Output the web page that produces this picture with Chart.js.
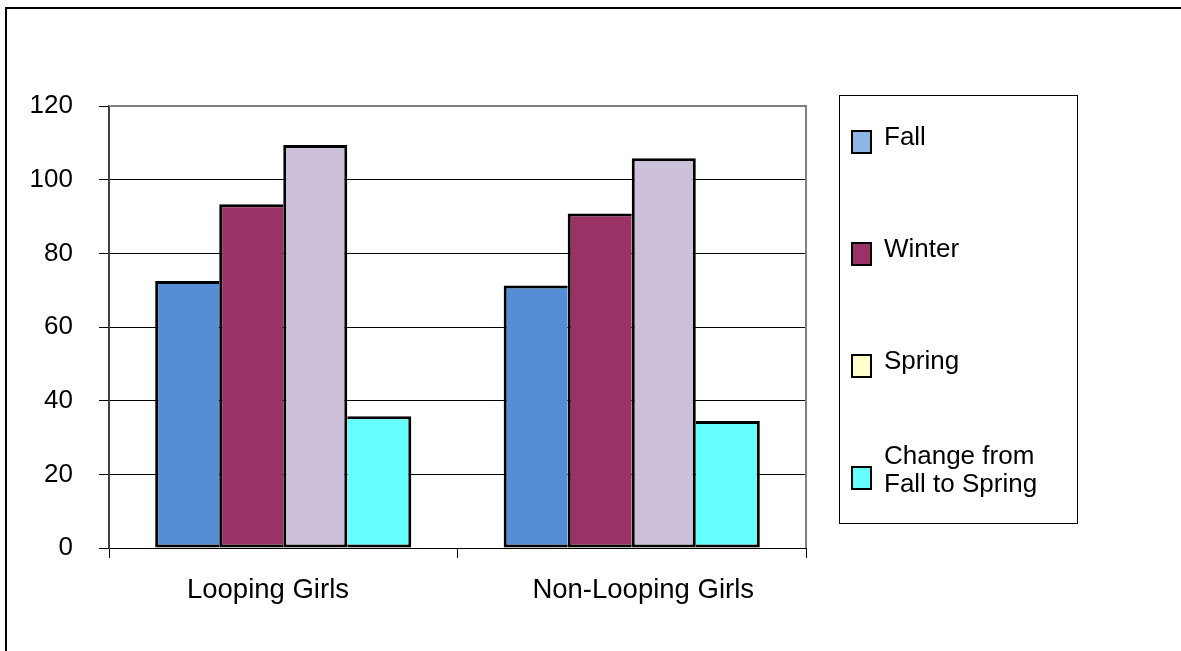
<!DOCTYPE html>
<html>
<head>
<meta charset="utf-8">
<script src="https://cdn.jsdelivr.net/npm/chart.js@4/dist/chart.umd.min.js"></script>
<style>
  html, body { margin: 0; padding: 0; background: #fff; }
  canvas { display: block; }
</style>
</head>
<body>
<canvas id="seasonChart" width="1181" height="651"></canvas>
<script>
/* ===================== DATA ===================== */
const CATEGORIES = ["Looping Girls", "Non-Looping Girls"];
const SERIES_NAMES = ["Fall", "Winter", "Spring", "Change from Fall to Spring"];

const FALL = [72.5, 71.3];
const WINTER = [93.3, 90.8];
const SPRING = [109.4, 105.8];
const CHANGE = [35.8, 34.5];

const Y_MIN = 0;
const Y_MAX = 120;
const Y_STEP = 20;

/* ===================== STYLE ===================== */
const FONT = "'Liberation Sans', Arial, sans-serif";
const FONT_SIZE = 26;
const BAR_COLORS = ["#558ED5", "#993366", "#CCC0DA", "#66FFFF"];
const LEGEND_COLORS = ["#8EB4E3", "#993366", "#FFFFCC", "#66FFFF"];
const EDGE = 3;

// neighbouring bars share one outline, so the left bars skip their right side
const BORDERS = [
  { top: EDGE, left: EDGE, bottom: EDGE, right: 0 },
  { top: EDGE, left: EDGE, bottom: EDGE, right: 0 },
  { top: EDGE, left: EDGE, bottom: EDGE, right: EDGE },
  { top: EDGE, left: 0, bottom: EDGE, right: EDGE }
];

// category labels sit a little off centre (spaces nudge them sideways)
const LABEL_NUDGE = [
  s => s + "    ",
  s => "   " + s
];

/* ===================== PLUGINS ===================== */
// outer frame (only the top and left edges fall inside the page)
const pageFrame = {
  id: "pageFrame",
  beforeDraw(chart) {
    const ctx = chart.ctx;
    ctx.save();
    ctx.fillStyle = "#fff";
    ctx.fillRect(0, 0, chart.width, chart.height);
    ctx.strokeStyle = "#000";
    ctx.lineWidth = 2;
    ctx.beginPath();
    ctx.moveTo(6, chart.height + 5);
    ctx.lineTo(6, 8);
    ctx.lineTo(chart.width + 5, 8);
    ctx.stroke();
    ctx.restore();
  }
};

// grey border round the plot area
const plotFrame = {
  id: "plotFrame",
  beforeDatasetsDraw(chart) {
    const { ctx, chartArea: a } = chart;
    ctx.save();
    ctx.strokeStyle = "#808080";
    ctx.lineWidth = 2;
    ctx.beginPath();
    ctx.moveTo(a.left, a.top);
    ctx.lineTo(a.right, a.top);
    ctx.lineTo(a.right, a.bottom);
    ctx.stroke();
    ctx.restore();
  }
};

// boxed legend on the right with wrapped labels
const sideLegend = {
  id: "sideLegend",
  afterDraw(chart) {
    const ctx = chart.ctx;
    const box = { x: 839.5, y: 95.5, w: 238, h: 428 };
    ctx.save();
    ctx.strokeStyle = "#000";
    ctx.lineWidth = 1;
    ctx.strokeRect(box.x, box.y, box.w, box.h);

    ctx.font = FONT_SIZE + "px " + FONT;
    ctx.textBaseline = "middle";
    ctx.textAlign = "left";
    const lineH = 28;
    const textX = 884;
    const maxW = box.x + box.w - textX - 8;

    chart.data.datasets.forEach((ds, i) => {
      const cy = 142 + i * 112;
      ctx.fillStyle = LEGEND_COLORS[i];
      ctx.fillRect(851, cy - 12, 21, 24);
      ctx.strokeStyle = "#000";
      ctx.lineWidth = 2;
      ctx.strokeRect(852, cy - 11, 19, 22);

      const words = ds.label.split(" ");
      const lines = [];
      let cur = "";
      words.forEach(w => {
        const test = cur ? cur + " " + w : w;
        if (ctx.measureText(test).width > maxW && cur) {
          lines.push(cur);
          cur = w;
        } else {
          cur = test;
        }
      });
      lines.push(cur);

      ctx.fillStyle = "#000";
      const y0 = cy - (lines.length - 1) * lineH / 2 - (lines.length > 1 ? 7 : 4);
      lines.forEach((t, k) => ctx.fillText(t, textX, y0 + k * lineH));
    });
    ctx.restore();
  }
};

/* ===================== CHART ===================== */
const seriesValues = [FALL, WINTER, SPRING, CHANGE];

new Chart(document.getElementById("seasonChart"), {
  type: "bar",
  data: {
    labels: CATEGORIES,
    datasets: SERIES_NAMES.map((name, i) => ({
      label: name,
      data: seriesValues[i],
      backgroundColor: BAR_COLORS[i],
      borderColor: "#000",
      borderWidth: BORDERS[i],
      borderSkipped: false,
      categoryPercentage: 0.735,
      barPercentage: 1
    }))
  },
  options: {
    responsive: false,
    animation: false,
    layout: { padding: { top: 106, right: 375, bottom: 0, left: 0 } },
    plugins: {
      legend: { display: false },
      tooltip: { enabled: false }
    },
    scales: {
      x: {
        offset: true,
        afterFit: s => { s.height = 103; },
        grid: {
          offset: true,
          drawOnChartArea: false,
          drawTicks: true,
          tickLength: 10,
          color: "#000"
        },
        border: { color: "#000", width: 1 },
        ticks: {
          color: "#000",
          padding: 16,
          font: { family: FONT, size: 27.5 },
          callback: (v, i) => LABEL_NUDGE[i](CATEGORIES[i])
        }
      },
      y: {
        min: Y_MIN,
        max: Y_MAX,
        afterFit: s => { s.width = 109; },
        grid: {
          color: "#000",
          lineWidth: 1,
          tickLength: 10
        },
        border: { color: "#404040", width: 2 },
        ticks: {
          stepSize: Y_STEP,
          color: "#000",
          padding: 26,
          font: { family: FONT, size: FONT_SIZE }
        }
      }
    }
  },
  plugins: [pageFrame, plotFrame, sideLegend]
});
</script>
</body>
</html>
